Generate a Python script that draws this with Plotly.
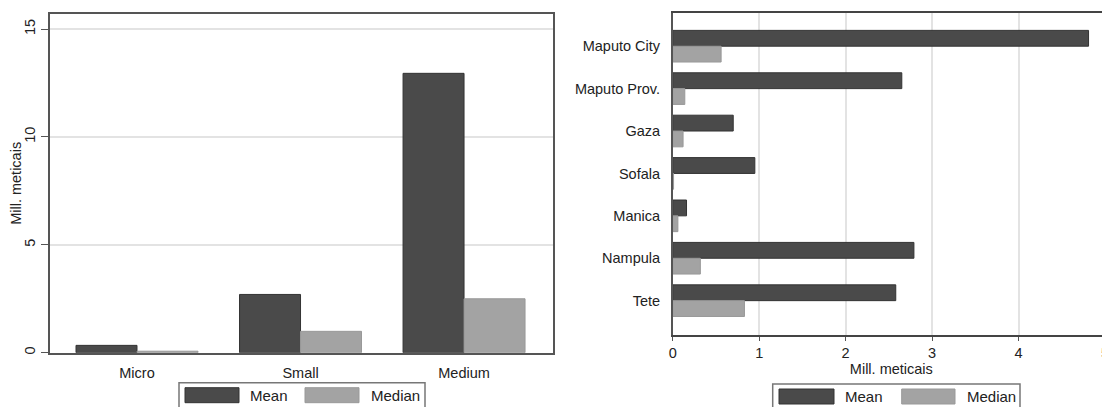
import plotly.graph_objects as go

# firm size panel
sizes = ["Micro", "Small", "Medium"]
size_mean = [0.34, 2.70, 12.95]
size_median = [0.07, 0.99, 2.50]

# province panel
provinces = ["Maputo City", "Maputo Prov.", "Gaza", "Sofala", "Manica", "Nampula", "Tete"]
prov_mean = [4.81, 2.65, 0.70, 0.95, 0.16, 2.79, 2.58]
prov_median = [0.56, 0.14, 0.12, 0.01, 0.06, 0.32, 0.83]

series_names = ["Mean", "Median"]
DARK = "#4a4a4a"
LIGHT = "#a3a3a3"
GRID = "#e3e3e3"
AXIS = "#555555"
FONT = "Liberation Sans, Arial, sans-serif"

# the page body adds an 8px margin, so the figure is a bit smaller than the window
OFF = 8
W, H = 1110 - OFF, 407 - OFF


def px(x):
    return (x - OFF) / W


def py(y):
    return 1 - (y - OFF) / H


fig = go.Figure()

fig.add_trace(go.Bar(x=sizes, y=size_mean, name=series_names[0], marker=dict(color=DARK, line=dict(color="#333333", width=1)),
                     xaxis="x", yaxis="y", showlegend=False))
fig.add_trace(go.Bar(x=sizes, y=size_median, name=series_names[1], marker=dict(color=LIGHT, line=dict(color="#999999", width=1)),
                     xaxis="x", yaxis="y", showlegend=False))
fig.add_trace(go.Bar(y=provinces, x=prov_mean, orientation="h", name=series_names[0],
                     marker=dict(color=DARK, line=dict(color="#333333", width=1)),
                     xaxis="x2", yaxis="y2", showlegend=False))
fig.add_trace(go.Bar(y=provinces, x=prov_median, orientation="h", name=series_names[1],
                     marker=dict(color=LIGHT, line=dict(color="#999999", width=1)),
                     xaxis="x2", yaxis="y2", showlegend=False))

fig.update_layout(
    width=W, height=H,
    margin=dict(l=0, r=0, t=0, b=0),
    paper_bgcolor="white", plot_bgcolor="white",
    font=dict(family=FONT, size=14, color="#222222"),
    barmode="group", bargap=0.254, bargroupgap=0,
    xaxis=dict(domain=[px(50), px(553)], anchor="y", type="category",
               range=[-0.532, 2.544], showgrid=False, ticks="",
               ticklabelstandoff=6, showline=True, linecolor=AXIS, linewidth=1.5,
               mirror=True, automargin=False, tickfont=dict(size=14.5)),
    yaxis=dict(domain=[py(352.7), py(14)], anchor="x", range=[0, 15.7],
               tickvals=[0, 5, 10, 15], tickangle=-90, ticks="outside", ticklen=7,
               tickcolor=AXIS, showgrid=True, gridcolor=GRID, gridwidth=1.5,
               zeroline=False, showline=True, linecolor=AXIS, linewidth=1.5,
               mirror=True, automargin=False, tickfont=dict(size=14.5),
               title=dict(text="Mill. meticais", standoff=4, font=dict(size=14.5))),
    xaxis2=dict(domain=[px(672.7), 1.0], anchor="y2", range=[0, 5.058],
                tickvals=[0, 1, 2, 3, 4, 5], ticks="outside", ticklen=4, tickcolor=AXIS,
                showgrid=True, gridcolor=GRID, gridwidth=1.5, zeroline=False,
                showline=True, linecolor="#444444", linewidth=2, mirror=True,
                automargin=False, tickfont=dict(size=14.5),
                title=dict(text="Mill. meticais", standoff=0, font=dict(size=14.5))),
    yaxis2=dict(domain=[py(335), py(12.7)], anchor="x2", type="category",
                categoryorder="array", categoryarray=provinces,
                range=[6.81, -0.79], ticks="", ticklabelstandoff=8,
                showgrid=False, showline=True, linecolor=AXIS, linewidth=1.5,
                automargin=False, tickfont=dict(size=14.5)),
)

# legend boxes drawn below each panel
legend_specs = [
    dict(box=(179, 425, 382.7), sw=[(185, 239), (305, 359)], txt=[248, 369]),
    dict(box=(772.7, 1020, 384), sw=[(779, 834), (901.7, 955)], txt=[843, 965]),
]
colors = [DARK, LIGHT]
for spec in legend_specs:
    x0, x1, top = spec["box"]
    fig.add_shape(type="rect", xref="paper", yref="paper", x0=px(x0), x1=px(x1),
                  y0=py(top), y1=py(407 + 10), line=dict(color="#777777", width=1.5),
                  fillcolor="white")
    for (sx0, sx1), tx, name, col in zip(spec["sw"], spec["txt"], series_names, colors):
        fig.add_shape(type="rect", xref="paper", yref="paper", x0=px(sx0), x1=px(sx1),
                      y0=py(top + 20), y1=py(top + 5), fillcolor=col,
                      line=dict(color="#333333" if col == DARK else "#999999", width=1))
        fig.add_annotation(text=name, xref="paper", yref="paper", x=px(tx), y=py(top + 12.5),
                           xanchor="left", yanchor="middle", showarrow=False,
                           font=dict(size=15, color="#222222"))

fig.write_html("out.html")
